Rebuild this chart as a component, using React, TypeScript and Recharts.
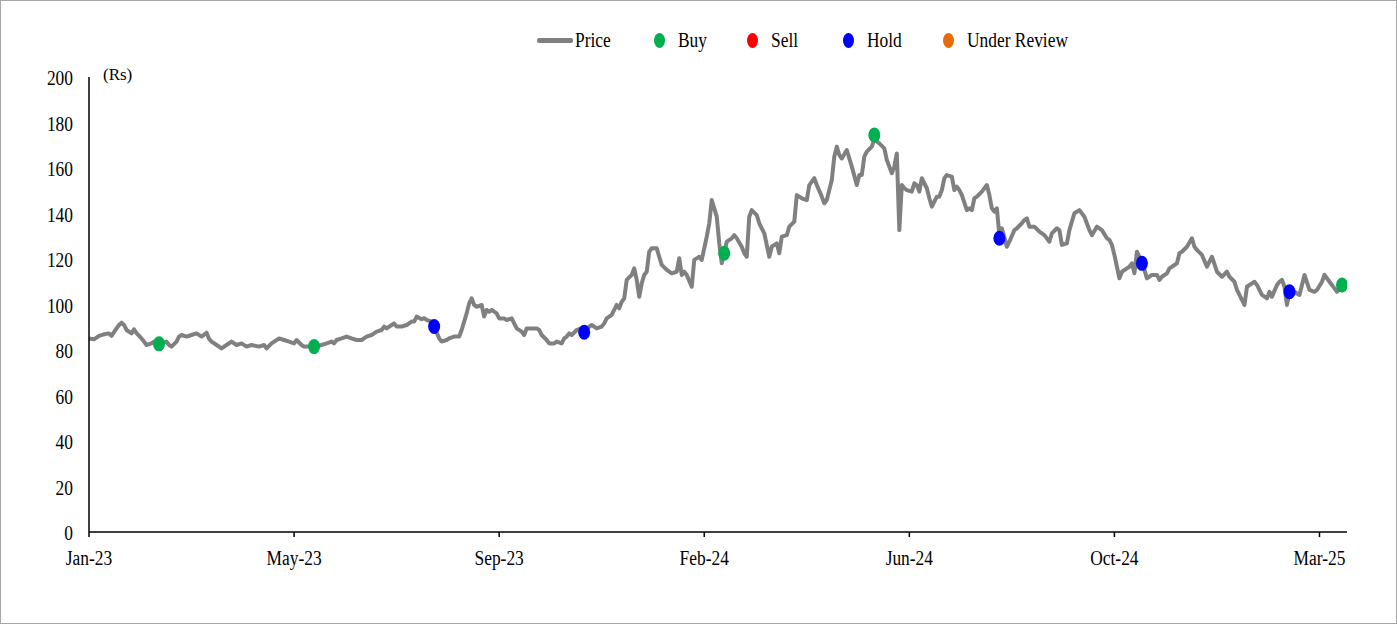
import React from "react";
import { LineChart, Line, XAxis, YAxis } from "recharts";

// trading-day index (0 = first session of Jan-23) and closing price, Rs
const priceDays = [
  0, 2, 4, 6, 8, 9, 11, 12, 13, 14, 15, 17, 18, 19, 21, 22, 23, 25, 26, 28,
  31, 32, 33, 35, 36, 37, 39, 41, 43, 45, 47, 48, 49, 51, 53, 55, 57, 59, 61, 63,
  65, 68, 70, 71, 73, 76, 78, 80, 82, 83, 85, 86, 88, 90, 93, 95, 97, 98, 99, 101,
  103, 105, 107, 109, 111, 113, 114, 115, 117, 118, 119, 121, 122, 123, 125, 127, 129, 130, 131, 133,
  134, 135, 137, 138, 140, 141, 143, 144, 146, 148, 149, 151, 152, 153, 154, 155, 157, 158, 159, 160,
  161, 163, 164, 166, 167, 169, 170, 171, 173, 174, 175, 177, 179, 180, 181, 183, 184, 186, 187, 189,
  190, 191, 192, 193, 195, 197, 198, 200, 201, 203, 205, 206, 207, 209, 211, 212, 213, 214, 215, 217,
  218, 219, 220, 221, 222, 223, 224, 225, 227, 228, 229, 231, 233, 235, 236, 237, 238, 239, 241, 242,
  243, 244, 245, 247, 248, 249, 251, 252, 253, 254, 255, 257, 258, 259, 261, 262, 263, 264, 265, 267,
  268, 270, 272, 273, 275, 276, 277, 279, 280, 282, 283, 285, 287, 288, 290, 291, 293, 294, 295, 297,
  298, 299, 300, 301, 303, 305, 307, 308, 309, 310, 311, 313, 314, 316, 318, 319, 321, 322, 323, 324,
  325, 326, 327, 329, 330, 331, 332, 333, 335, 336, 337, 339, 340, 341, 342, 343, 345, 346, 347, 348,
  349, 351, 352, 353, 354, 355, 357, 359, 360, 361, 362, 363, 364, 365, 367, 368, 370, 371, 373, 374,
  375, 376, 378, 380, 382, 384, 385, 387, 388, 389, 391, 392, 394, 396, 398, 400, 401, 403, 405, 407,
  408, 409, 410, 411, 412, 413, 415, 416, 417, 418, 419, 420, 421, 422, 423, 425, 427, 428, 429, 431,
  432, 433, 435, 436, 437, 439, 441, 442, 443, 445, 447, 449, 451, 453, 455, 456, 458, 459, 461, 462,
  463, 465, 466, 467, 469, 471, 472, 473, 475, 476, 477, 478, 479, 480, 482, 484, 486, 488, 490, 491,
  493, 494, 496, 498, 499, 500,
];

const prices = [
  85.1, 84.7, 86.2, 86.9, 87.3, 86.2, 89.5, 91, 92, 91, 88.8, 87.3, 89.1, 87.4, 85.1, 83.7, 82.2, 82.9, 83.7, 82.7,
  83.7, 82.2, 81.5, 83.7, 85.9, 86.6, 85.9, 86.6, 87.3, 85.9, 87.6, 84.9, 83.7, 82.2, 80.7, 82.2, 83.7, 82.2, 82.9, 81.5,
  82.2, 81.5, 82.2, 80.7, 82.9, 85.1, 84.4, 83.7, 82.9, 84.4, 82.2, 81.5, 81.5, 81.5, 82.2, 82.9, 83.7, 82.9, 84.4, 85.1,
  85.9, 85.1, 84.4, 84.4, 85.9, 86.6, 87.3, 88.1, 88.8, 90.3, 89.5, 91, 91.7, 90.3, 90.3, 91, 92.5, 92.5, 94.7, 93.5,
  94, 93.2, 92.5, 90.3, 85.1, 83.7, 84.4, 85.1, 85.9, 85.9, 88.8, 96.1, 100.5, 102.7, 99.8, 99, 99.8, 94.7, 97.6, 96.8,
  97.6, 96.1, 93.9, 93.9, 93.2, 93.9, 91.7, 89.5, 88.1, 86.6, 89.5, 89.5, 89.5, 88.8, 86.6, 84.4, 82.9, 82.9, 83.7, 82.9,
  85.1, 85.9, 87.3, 86.6, 88.8, 89.5, 87.8, 90.3, 91, 89.5, 90.3, 91.7, 93.9, 95.4, 99.8, 98.3, 101.2, 102.7, 110.8, 113,
  115.9, 110.8, 103.4, 109.3, 113, 114.4, 123.2, 124.7, 124.7, 121, 117.4, 115.2, 113.7, 114.4, 120.3, 113, 114.4, 113, 107.8, 119.6,
  120.3, 121, 119.6, 129.8, 135.7, 145.9, 138.6, 126.9, 118.1, 122.5, 127.6, 129.1, 130.5, 129.1, 125.4, 122.5, 121, 138.6, 141.5, 139.3,
  135.7, 131.3, 121, 125.4, 126.9, 122.5, 129.8, 130.5, 134.2, 136.4, 148.1, 146.7, 145.9, 152.5, 155.5, 152.5, 147.4, 144.5, 145.9, 154.7,
  165, 169.4, 165.7, 164.2, 167.9, 160.6, 152.5, 156.9, 156.9, 165, 167.2, 169.4, 172.5, 170.8, 168.6, 163.5, 157.7, 160.6, 166.4, 132.7,
  152.5, 151.1, 150.3, 149.6, 153.3, 152.5, 149.6, 155.5, 151.1, 146.7, 143, 147.4, 147.4, 150.3, 155.5, 156.9, 156.2, 150.3, 151.8, 150.3,
  148.1, 141.5, 142.3, 141.5, 146.7, 147.4, 149.6, 152.5, 148.1, 142.3, 140.8, 142.3, 130.5, 133.5, 125.4, 127.6, 132.7, 133.5, 135.7, 137.1,
  137.9, 134.2, 134.2, 132, 130.5, 127.6, 131.3, 133.5, 132.7, 126.2, 126.9, 132.7, 140.1, 141.5, 138.6, 132.7, 130.5, 134.2, 132.7, 129.1,
  128.4, 126.2, 121.8, 116.6, 111.5, 114.4, 115.9, 116.6, 118.1, 113.7, 123.2, 121, 118.1, 115.2, 111.5, 113, 113, 110.8, 112.2, 113.7,
  115.9, 116.6, 118.1, 122.5, 123.2, 125.4, 129.1, 125.4, 124, 121.8, 116.6, 121, 114.4, 112.2, 114.4, 112.2, 110, 106.4, 102, 99.8,
  107.8, 109.3, 110, 108.6, 104.2, 102.7, 105.6, 103.4, 108.6, 110, 110.8, 107.8, 99.8, 105.6, 105.6, 104.2, 113, 106.4, 105.6, 106.4,
  110, 113, 110, 107.1, 105.6, 106.5,
];

// recommendation calls
const buyDays = [28, 90, 254, 314, 501];
const buyPrices = [82.7, 81.5, 122.5, 174.5, 108.6];
const holdDays = [138, 198, 364, 421, 480];
const holdPrices = [90.3, 87.8, 129.1, 118.1, 105.6];
const sellDays: number[] = [];
const sellPrices: number[] = [];
const reviewDays: number[] = [];
const reviewPrices: number[] = [];

const xTicks = [0, 82, 164, 246, 328, 410, 492];
const xTickLabels = ["Jan-23", "May-23", "Sep-23", "Feb-24", "Jun-24", "Oct-24", "Mar-25"];
const yTicks = [0, 20, 40, 60, 80, 100, 120, 140, 160, 180, 200];

const priceData = priceDays.map((day, i) => ({ day, value: prices[i] }));
const toPoints = (days: number[], vals: number[]) =>
  days.map((day, i) => ({ day, value: vals[i] }));

const COLORS = {
  price: "#808080",
  buy: "#00b050",
  sell: "#ff0000",
  hold: "#0000ff",
  review: "#e46c0a",
};

const FONT = "'Liberation Serif', 'Times New Roman', serif";
const SQUEEZE = 0.87;

const XTick = ({ x, y, payload }: any) => {
  const idx = xTicks.indexOf(payload.value);
  return (
    <g transform={`translate(${x},${y})`}>
      <text
        transform={`scale(${SQUEEZE},1)`}
        textAnchor="middle"
        dy="0.71em"
        fontFamily={FONT}
        fontSize={20}
        fill="#000"
      >
        {idx >= 0 ? xTickLabels[idx] : ""}
      </text>
    </g>
  );
};

const YTick = ({ x, y, payload }: any) => (
  <g transform={`translate(${x},${y})`}>
    <text
      transform={`scale(${SQUEEZE},1)`}
      textAnchor="end"
      dy="0.4em"
      fontFamily={FONT}
      fontSize={20}
      fill="#000"
    >
      {payload.value}
    </text>
  </g>
);

const makeDot = (color: string) => (props: any) => {
  const { cx, cy, index } = props;
  if (cx == null || cy == null) return <g key={`d-${index}`} />;
  return <ellipse key={`d-${color}-${index}`} cx={cx} cy={cy} rx={6} ry={7.5} fill={color} />;
};

const legendItems = [
  { name: "Price", color: COLORS.price, kind: "line", left: 537 },
  { name: "Buy", color: COLORS.buy, kind: "dot", left: 654 },
  { name: "Sell", color: COLORS.sell, kind: "dot", left: 747 },
  { name: "Hold", color: COLORS.hold, kind: "dot", left: 843 },
  { name: "Under Review", color: COLORS.review, kind: "dot", left: 943 },
];

function ChartLegend() {
  return (
    <>
      {legendItems.map((item) => (
        <div
          key={item.name}
          style={{ position: "absolute", left: item.left, top: 28, height: 24, display: "flex", alignItems: "center" }}
        >
          {item.kind === "line" ? (
            <span style={{ display: "inline-block", width: 36, height: 5, borderRadius: 2, background: item.color }} />
          ) : (
            <span style={{ display: "inline-block", width: 11, height: 15, borderRadius: "50%", background: item.color }} />
          )}
          <span
            style={{
              display: "inline-block",
              marginLeft: item.kind === "line" ? 2 : 13,
              fontFamily: FONT,
              fontSize: 20,
              color: "#000",
              transform: `scaleX(${SQUEEZE})`,
              transformOrigin: "left center",
              whiteSpace: "nowrap",
              lineHeight: "24px",
            }}
          >
            {item.name}
          </span>
        </div>
      ))}
    </>
  );
}

export default function App() {
  return (
    <div style={{ position: "absolute", left: 0, top: 0, width: 1397, height: 624, background: "#fff" }}>
      <LineChart width={1397} height={624} margin={{ top: 77, right: 50, bottom: 62, left: 0 }}>
        <XAxis
          type="number"
          dataKey="day"
          domain={[0, 503]}
          ticks={xTicks}
          tick={<XTick />}
          tickSize={5}
          tickMargin={14}
          height={30}
          axisLine={{ stroke: "#000", strokeWidth: 1.5 }}
          tickLine={{ stroke: "#000", strokeWidth: 1.5 }}
          allowDataOverflow
        />
        <YAxis
          type="number"
          domain={[0, 200]}
          ticks={yTicks}
          tick={<YTick />}
          width={89}
          tickSize={6}
          tickMargin={10}
          tickLine={false}
          axisLine={{ stroke: "#000", strokeWidth: 1.5 }}
          interval={0}
        />
        <Line
          data={priceData}
          dataKey="value"
          type="linear"
          stroke={COLORS.price}
          strokeWidth={4}
          strokeLinejoin="round"
          dot={false}
          activeDot={false}
          isAnimationActive={false}
        />
        <Line data={toPoints(sellDays, sellPrices)} dataKey="value" stroke="none" dot={makeDot(COLORS.sell)} activeDot={false} isAnimationActive={false} />
        <Line data={toPoints(reviewDays, reviewPrices)} dataKey="value" stroke="none" dot={makeDot(COLORS.review)} activeDot={false} isAnimationActive={false} />
        <Line data={toPoints(holdDays, holdPrices)} dataKey="value" stroke="none" dot={makeDot(COLORS.hold)} activeDot={false} isAnimationActive={false} />
        <Line data={toPoints(buyDays, buyPrices)} dataKey="value" stroke="none" dot={makeDot(COLORS.buy)} activeDot={false} isAnimationActive={false} />
      </LineChart>
      <ChartLegend />
      <div style={{ position: "absolute", left: 103, top: 65, fontFamily: FONT, fontSize: 17, color: "#000" }}>(Rs)</div>
      <div
        style={{
          position: "absolute",
          left: 0,
          top: 0,
          width: 1397,
          height: 624,
          boxSizing: "border-box",
          border: "1px solid #a6a6a6",
          pointerEvents: "none",
        }}
      />
    </div>
  );
}
